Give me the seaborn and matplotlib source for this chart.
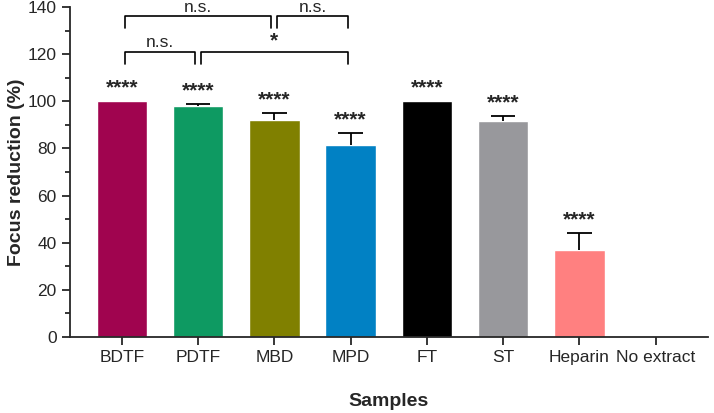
import numpy as np
import pandas as pd
import seaborn as sns
import matplotlib.pyplot as plt
from matplotlib.ticker import MultipleLocator

samples = ['BDTF', 'PDTF', 'MBD', 'MPD', 'FT', 'ST', 'Heparin', 'No extract']
reduction = [100.0, 98.0, 92.0, 81.5, 100.0, 91.5, 37.0, 0.0]
error = [0.0, 1.0, 3.0, 5.0, 0.0, 2.2, 7.0, 0.0]
stars = ['****', '****', '****', '****', '****', '****', '****', '']
colors = ['#A0044F', '#0E9A62', '#808000', '#0181C4', '#000000', '#98989C', '#FF8080', '#FFFFFF']

# comparisons: (left, right, level, label)
comparisons = [(0, 2, 136, 'n.s.'), (2, 3, 136, 'n.s.'),
               (0, 1, 121, 'n.s.'), (1, 3, 121, '*')]

df = pd.DataFrame({'Samples': samples, 'Focus reduction (%)': reduction})

sns.set_style('ticks')
plt.rcParams['font.family'] = ['Liberation Sans', 'DejaVu Sans']

fig = plt.figure(figsize=(7.14, 4.13), dpi=100)
ax = fig.add_axes([0.098, 0.184, 0.893, 0.799])

sns.barplot(data=df, x='Samples', y='Focus reduction (%)', hue='Samples',
            palette=colors, width=0.66, legend=False, ax=ax, saturation=1)

# upper error bars only
for i in range(len(samples)):
    if error[i] > 0:
        top = reduction[i] + error[i]
        ax.vlines(i, reduction[i], top, color='black', lw=1.3)
        ax.hlines(top, i - 0.16, i + 0.16, color='black', lw=1.3)

for i, s in enumerate(stars):
    if s:
        ax.text(i, reduction[i] + error[i] + 1.5, s, ha='center', va='bottom',
                fontsize=15, fontweight='bold')

for a, b, h, lab in comparisons:
    off = 0.04
    xa, xb = a + off, b - off
    ax.plot([xa, xa, xb, xb], [h - 5, h, h, h - 5], color='black', lw=1.2,
            clip_on=False)
    ax.text((xa + xb) / 2, h + 0.8, lab, ha='center', va='bottom',
            fontsize=15 if lab == '*' else 12.5,
            fontweight='bold' if lab == '*' else 'normal')

ax.set_ylim(0, 140)
ax.set_xlim(-0.68, 7.68)
ax.yaxis.set_major_locator(MultipleLocator(20))
ax.yaxis.set_minor_locator(MultipleLocator(10))
ax.tick_params(axis='both', labelsize=12.5, width=1.3, length=6)
ax.tick_params(axis='y', which='minor', width=1.3, length=3.5)
for sp in ['left', 'bottom']:
    ax.spines[sp].set_linewidth(1.3)
sns.despine(ax=ax)

ax.set_ylabel('Focus reduction (%)', fontsize=14, fontweight='bold', labelpad=2)
ax.set_xlabel('Samples', fontsize=14, fontweight='bold', labelpad=20)

fig.savefig('out.png', dpi=100)
